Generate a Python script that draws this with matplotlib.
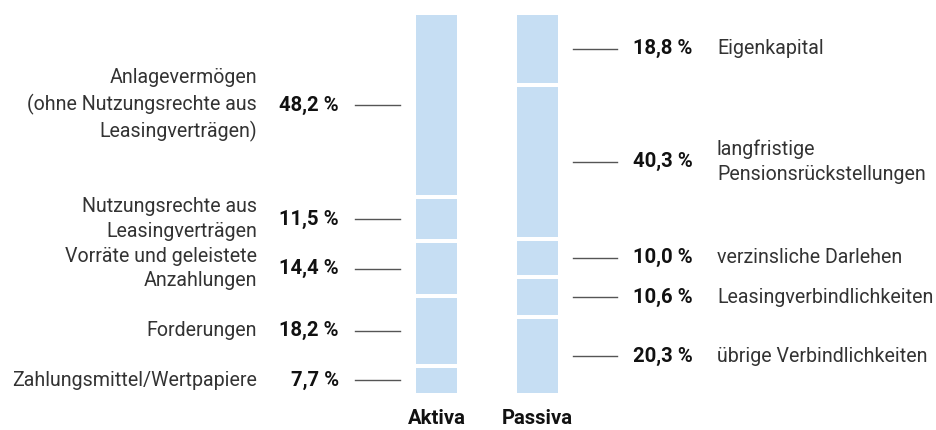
import matplotlib
matplotlib.use("Agg")
import matplotlib.pyplot as plt
import numpy as np

# ---- data ----
columns = ["Aktiva", "Passiva"]
aktiva_labels = ["Anlagevermögen\n(ohne Nutzungsrechte aus\nLeasingverträgen)",
                 "Nutzungsrechte aus\nLeasingverträgen",
                 "Vorräte und geleistete\nAnzahlungen",
                 "Forderungen",
                 "Zahlungsmittel/Wertpapiere"]
aktiva_values = [48.2, 11.5, 14.4, 18.2, 7.7]
passiva_labels = ["Eigenkapital",
                  "langfristige\nPensionsrückstellungen",
                  "verzinsliche Darlehen",
                  "Leasingverbindlichkeiten",
                  "übrige Verbindlichkeiten"]
passiva_values = [18.8, 40.3, 10.0, 10.6, 20.3]

BAR_COLOR = "#C6DEF3"
TEXT_COLOR = "#333333"
LINE_COLOR = "#555555"
FONT = ["Roboto", "DejaVu Sans"]

W, H = 936, 430
fig = plt.figure(figsize=(W / 100, H / 100), dpi=100)
top_px, bot_px = 13, 395
ax = fig.add_axes([0, 1 - bot_px / H, 1, (bot_px - top_px) / H])
ax.set_axis_off()

c0, c1 = 436.5, 537.5
unit = c1 - c0
ax.set_xlim(-c0 / unit, (W - c0) / unit)
ax.set_ylim(100, 0)

def px2x(px):
    return (px - c0) / unit

bar_w = 45 / unit
gap_lw = 4 * 72 / 100  # 4 px white edge

def fmt(v):
    return f"{v:.1f}".replace(".", ",") + " %"

for i, vals in enumerate([aktiva_values, passiva_values]):
    bottoms = np.concatenate([[0], np.cumsum(vals)[:-1]])
    ax.bar([i] * len(vals), vals, bottom=bottoms, width=bar_w,
           color=BAR_COLOR, edgecolor="white", linewidth=gap_lw, align="center")

fs_lab = 14.1
fs_pct = 14.6
ls = 1.38
# Aktiva labels
bottoms = np.concatenate([[0], np.cumsum(aktiva_values)[:-1]])
for lab, v, b in zip(aktiva_labels, aktiva_values, bottoms):
    yc = b + v / 2
    ax.plot([px2x(355), px2x(400)], [yc, yc], color=LINE_COLOR, lw=1.0)
    ax.text(px2x(339), yc, fmt(v), ha="right", va="center", fontsize=fs_pct,
            fontweight="bold", color="#111111", family=FONT)
    ax.text(px2x(257), yc, lab, ha="right", va="center", fontsize=fs_lab,
            fontweight="normal", color=TEXT_COLOR, family=FONT,
            linespacing=ls, multialignment="right")

# Passiva labels
bottoms = np.concatenate([[0], np.cumsum(passiva_values)[:-1]])
for lab, v, b in zip(passiva_labels, passiva_values, bottoms):
    yc = b + v / 2
    ax.plot([px2x(573), px2x(617)], [yc, yc], color=LINE_COLOR, lw=1.0)
    ax.text(px2x(633), yc, fmt(v), ha="left", va="center", fontsize=fs_pct,
            fontweight="bold", color="#111111", family=FONT)
    ax.text(px2x(717), yc, lab, ha="left", va="center", fontsize=fs_lab,
            fontweight="normal", color=TEXT_COLOR, family=FONT,
            linespacing=ls, multialignment="left")

for i, col in enumerate(columns):
    fig.text((c0 + i * unit) / W, 1 - 418 / H, col, ha="center", va="center",
             fontsize=fs_pct, fontweight="bold", color="#111111", family=FONT)

fig.savefig("out.png", dpi=100)
